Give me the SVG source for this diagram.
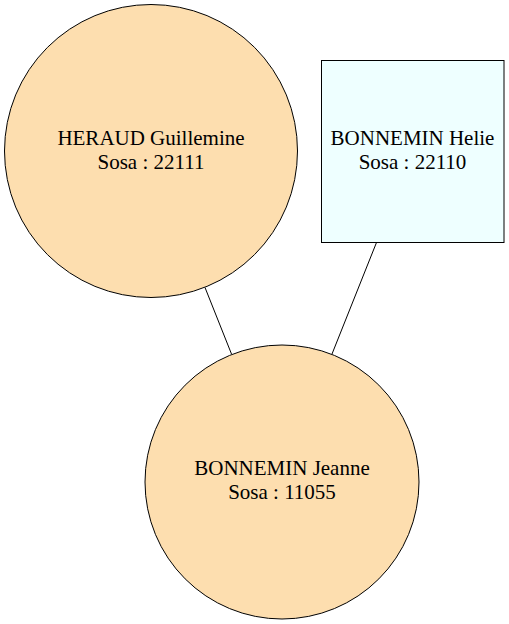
<svg xmlns="http://www.w3.org/2000/svg" width="509" height="624" viewBox="0 0 509 624">
<style>
text{font-size:21px;fill:#000;text-anchor:middle}
.n{stroke:#000;stroke-width:1}
.e{stroke:#000;stroke-width:1;fill:none}
</style>
<rect width="509" height="624" fill="#fff"/>
<g id="edges">
<line class="e" x1="205" y1="287.5" x2="231.5" y2="354"/>
<line class="e" x1="376.5" y1="242.5" x2="332" y2="354"/>
</g>
<g font-family="'Liberation Serif', 'Times New Roman', Times, serif">
<g id="n22111">
<circle class="n" cx="151" cy="151" r="146.5" fill="#fddeaf"/>
<text x="151" y="145">HERAUD Guillemine</text>
<text x="151" y="169">Sosa : 22111</text>
</g>
<g id="n22110">
<rect class="n" x="321.5" y="60.5" width="182.5" height="182" fill="#eeffff"/>
<text x="412.5" y="145">BONNEMIN Helie</text>
<text x="412.5" y="169">Sosa : 22110</text>
</g>
<g id="n11055">
<circle class="n" cx="282" cy="482" r="137" fill="#fddeaf"/>
<text x="282" y="475">BONNEMIN Jeanne</text>
<text x="282" y="499">Sosa : 11055</text>
</g>
</g>
</svg>
